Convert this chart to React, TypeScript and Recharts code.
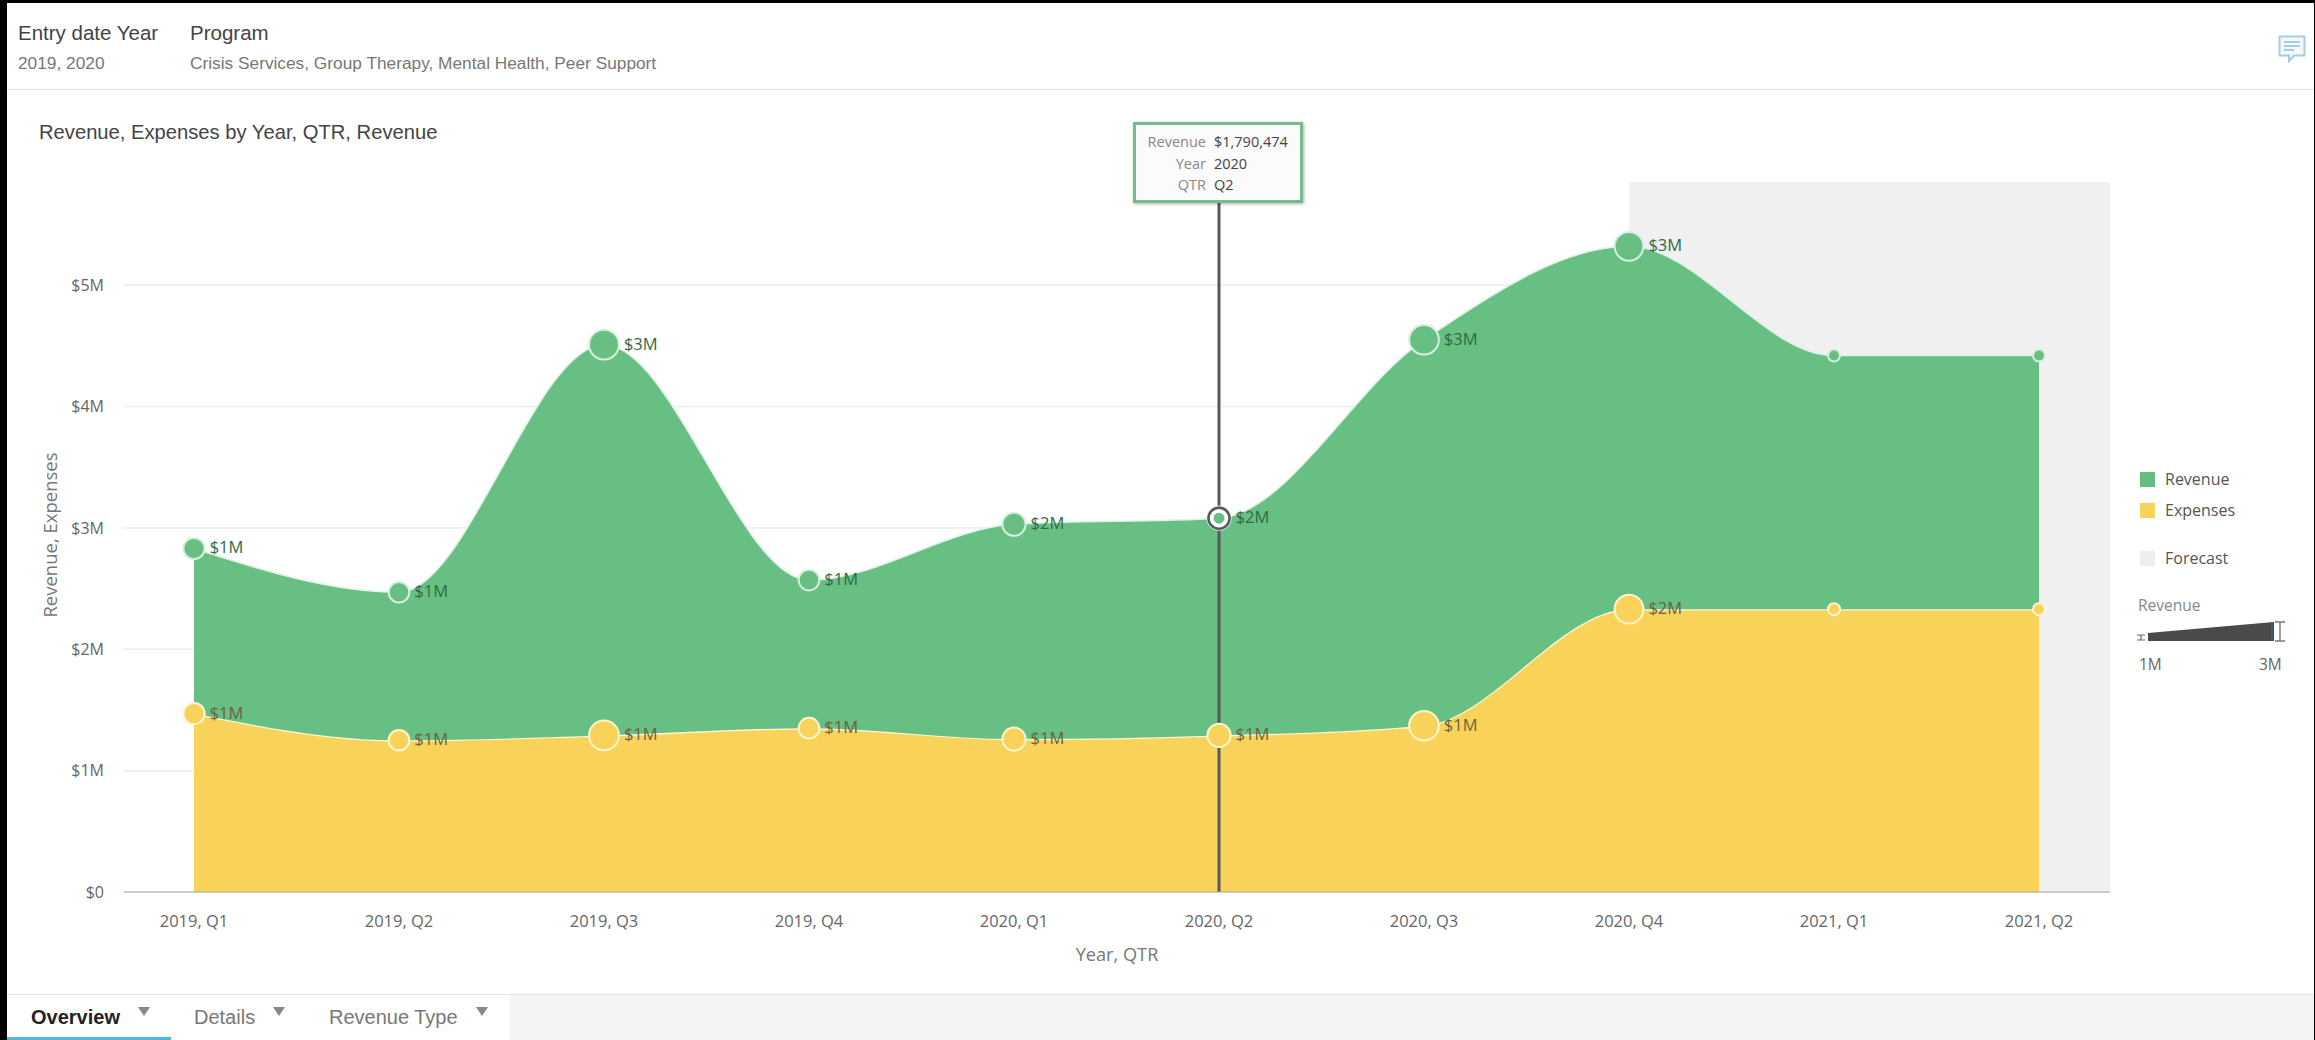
import React from 'react';
import { Area, AreaChart, CartesianGrid, ReferenceArea, ReferenceDot, ReferenceLine, XAxis, YAxis } from 'recharts';

const quarters = ['2019, Q1', '2019, Q2', '2019, Q3', '2019, Q4', '2020, Q1', '2020, Q2', '2020, Q3', '2020, Q4', '2021, Q1', '2021, Q2'];
const expenses = [1.47, 1.25, 1.29, 1.35, 1.26, 1.29, 1.37, 2.33, 2.33, 2.33];
const revenue = [1.36, 1.22, 3.22, 1.22, 1.77, 1.79, 3.18, 2.99, 2.09, 2.09];
// forecast points carry no size measure and no data label
const actuals = [true, true, true, true, true, true, true, true, false, false];
const yTicks = [0, 1, 2, 3, 4, 5];
const legendItems = [
  { name: 'Revenue', color: '#66BD80', top: 472 },
  { name: 'Expenses', color: '#F9D25A', top: 503 },
  { name: 'Forecast', color: '#EEEEEE', top: 551 },
];
const filterNames = ['Crisis Services', 'Group Therapy', 'Mental Health', 'Peer Support'];
const filterYears = ['2019', '2020'];
const tabs = [
  { name: 'Overview', left: 31, arrow: 144 },
  { name: 'Details', left: 194, arrow: 279 },
  { name: 'Revenue Type', left: 329, arrow: 482 },
];

const GREEN = '#68BF84';
const YELLOW = '#F9D25A';
const UI_FONT = '"Liberation Sans", Arial, sans-serif';
const CHART_FONT = '"Open Sans", sans-serif';

const data = quarters.map((q, i) => ({
  q,
  idx: i,
  expenses: expenses[i],
  revenue: revenue[i],
  total: expenses[i] + revenue[i],
  actual: actuals[i],
}));

const dollars = (v: number) => (v === 0 ? '$0' : `$${v}M`);

function bubble(color: string, ring: string, key: 'revenue' | 'expenses', labelColor: string) {
  return (props: any) => {
    const { cx, cy, payload, index } = props;
    if (cx == null || cy == null) return <g key={index} />;
    const r = payload.actual ? 7.5 + 2.3 * payload.revenue : 6;
    return (
      <g key={index}>
        <circle cx={cx} cy={cy} r={r} fill={color} stroke={ring} strokeWidth={2} />
        {payload.actual && (
          <text x={cx + r + 5} y={cy + 0.5} dominantBaseline="middle" fontSize={16.5} fontFamily={CHART_FONT} fill={labelColor}>
            {dollars(Math.round(payload[key]))}
          </text>
        )}
      </g>
    );
  };
}

function SelectedDot(props: any) {
  const { cx, cy } = props;
  return (
    <g>
      <circle cx={cx} cy={cy} r={8} fill={GREEN} stroke="#fff" strokeWidth={5} />
      <circle cx={cx} cy={cy} r={10.5} fill="none" stroke="#55595a" strokeWidth={2.5} />
    </g>
  );
}

export default function App() {
  return (
    <div style={{ position: 'absolute', left: 0, top: 0, width: 2315, height: 1040, background: '#000', overflow: 'hidden' }}>
      <div style={{ position: 'absolute', left: 7, top: 3, width: 2307, height: 1037, background: '#fff' }} />

      <div style={{ position: 'absolute', left: 18, top: 21, fontFamily: UI_FONT, fontSize: 20.5, color: '#444' }}>Entry date Year</div>
      <div style={{ position: 'absolute', left: 190, top: 21, fontFamily: UI_FONT, fontSize: 20.5, color: '#444' }}>Program</div>
      <div style={{ position: 'absolute', left: 18, top: 53, fontFamily: UI_FONT, fontSize: 17.3, color: '#777' }}>{filterYears.join(', ')}</div>
      <div style={{ position: 'absolute', left: 190, top: 53, fontFamily: UI_FONT, fontSize: 17.3, color: '#777' }}>{filterNames.join(', ')}</div>
      <div style={{ position: 'absolute', left: 7, top: 89, width: 2307, height: 1, background: '#e4e4e4' }} />
      <div style={{ position: 'absolute', left: 39, top: 121, fontFamily: UI_FONT, fontSize: 20.2, color: '#444' }}>Revenue, Expenses by Year, QTR, Revenue</div>

      <svg style={{ position: 'absolute', left: 2278, top: 35 }} width={28} height={28} viewBox="0 0 28 28">
        <path d="M1.5 1.5H26.5V20.5H16L11 26V20.5H1.5Z" fill="#f3f8fb" stroke="#A9CDE0" strokeWidth={2} />
        <path d="M6 7H22M6 11H22M6 15H16" stroke="#A9CDE0" strokeWidth={1.8} />
      </svg>

      <div style={{ position: 'absolute', left: 0, top: 0 }}>
        <AreaChart width={2315} height={1040} data={data} margin={{ top: 182, right: 205, bottom: 0, left: 0 }}>
          <XAxis xAxisId="band" dataKey="idx" type="number" domain={[-0.341, 9.346]} allowDataOverflow height={0} tick={false} axisLine={false} tickLine={false} />
          <ReferenceArea xAxisId="band" x1={7} x2={9.346} ifOverflow="visible" fill="#F0F0F0" fillOpacity={1} stroke="none" />
          <CartesianGrid vertical={false} stroke="#EBEBEB" strokeWidth={1.5} horizontalValues={yTicks} />
          <XAxis
            dataKey="q"
            scale="point"
            padding={{ left: 70, right: 71 }}
            height={148}
            tickLine={false}
            tickMargin={17}
            stroke="#A8A8A8"
            tick={{ fontSize: 16.5, fontFamily: CHART_FONT, fill: '#666' }}
          />
          <YAxis
            width={124}
            domain={[0, 5.85]}
            ticks={yTicks}
            tickFormatter={dollars}
            axisLine={false}
            tickLine={false}
            tickMargin={14}
            tick={{ fontSize: 16, fontFamily: CHART_FONT, fill: '#666' }}
          />
          <Area
            dataKey="expenses"
            stackId="a"
            type="monotone"
            fill={YELLOW}
            fillOpacity={1}
            stroke="#FFF8DC"
            strokeWidth={2.5}
            isAnimationActive={false}
            dot={bubble(YELLOW, '#FFF6D0', 'expenses', '#6b6340')}
            activeDot={false}
          />
          <Area
            dataKey="revenue"
            stackId="a"
            type="monotone"
            fill={GREEN}
            fillOpacity={1}
            stroke="#DDF3E4"
            strokeWidth={1.5}
            isAnimationActive={false}
            dot={bubble(GREEN, '#D5F0DE', 'revenue', '#2f6b47')}
            activeDot={false}
          />
          <CartesianGrid vertical={false} stroke="#fff" strokeOpacity={0.12} strokeWidth={1.5} horizontalValues={yTicks} />
          <ReferenceLine x="2020, Q2" stroke="#55595a" strokeWidth={3} />
          <ReferenceDot x="2020, Q2" y={data[5].total} shape={SelectedDot} />
        </AreaChart>
      </div>

      <div style={{ position: 'absolute', left: 49, top: 535, transform: 'translate(-50%, -50%) rotate(-90deg)', whiteSpace: 'nowrap', fontFamily: CHART_FONT, fontSize: 18.5, color: '#777' }}>
        Revenue, Expenses
      </div>
      <div style={{ position: 'absolute', left: 1117, top: 954, transform: 'translate(-50%, -50%)', fontFamily: CHART_FONT, fontSize: 18.2, color: '#777' }}>Year, QTR</div>

      <div style={{ position: 'absolute', left: 1133, top: 122, width: 170, height: 81, boxSizing: 'border-box', background: '#fbfbfb', border: '3px solid #73BD8D', boxShadow: '1px 1px 3px rgba(0,0,0,0.3)', fontFamily: CHART_FONT, fontSize: 14.5, lineHeight: '21.7px', paddingTop: 6 }}>
        {[['Revenue', '$1,790,474'], ['Year', '2020'], ['QTR', 'Q2']].map(([k, v]) => (
          <div key={k} style={{ position: 'relative', height: 21.7 }}>
            <span style={{ position: 'absolute', right: 94, color: '#888' }}>{k}</span>
            <span style={{ position: 'absolute', left: 78, color: '#444' }}>{v}</span>
          </div>
        ))}
      </div>

      {legendItems.map((l) => (
        <React.Fragment key={l.name}>
          <div style={{ position: 'absolute', left: 2140, top: l.top, width: 15, height: 15, background: l.color }} />
          <div style={{ position: 'absolute', left: 2165, top: l.top - 4, fontFamily: CHART_FONT, fontSize: 16, color: '#555' }}>{l.name}</div>
        </React.Fragment>
      ))}
      <div style={{ position: 'absolute', left: 2138, top: 594, fontFamily: CHART_FONT, fontSize: 15.5, color: '#888' }}>Revenue</div>
      <svg style={{ position: 'absolute', left: 2135, top: 615 }} width={155} height={32}>
        <path d="M13 18V26L139 26V7Z" fill="#4a4a4a" />
        <path d="M137 7V26" stroke="#3f5a78" strokeWidth={2} />
        <path d="M2 20H10M6 20V25M2 25H10" stroke="#666" strokeWidth={1.2} fill="none" />
        <path d="M140 7H150M145 7V26M140 26H150" stroke="#777" strokeWidth={1.4} fill="none" />
      </svg>
      <div style={{ position: 'absolute', left: 2139, top: 653, fontFamily: CHART_FONT, fontSize: 15.5, color: '#666' }}>1M</div>
      <div style={{ position: 'absolute', left: 2259, top: 653, fontFamily: CHART_FONT, fontSize: 15.5, color: '#666' }}>3M</div>

      <div style={{ position: 'absolute', left: 7, top: 994, width: 2307, height: 46, background: '#F3F5F5', borderTop: '1px solid #e2e2e2', boxSizing: 'border-box' }} />
      <div style={{ position: 'absolute', left: 7, top: 995, width: 503, height: 45, background: '#fff' }} />
      <div style={{ position: 'absolute', left: 7, top: 1037, width: 164, height: 3, background: '#4FB8DC' }} />
      {tabs.map((t, i) => (
        <React.Fragment key={t.name}>
          <div style={{ position: 'absolute', left: t.left, top: 1006, fontFamily: UI_FONT, fontSize: 20, fontWeight: i === 0 ? 700 : 400, color: i === 0 ? '#222' : '#777' }}>{t.name}</div>
          <svg style={{ position: 'absolute', left: t.arrow - 6, top: 1007 }} width={12} height={10}>
            <path d="M0 0H12L6 9Z" fill="#888" />
          </svg>
        </React.Fragment>
      ))}
    </div>
  );
}
